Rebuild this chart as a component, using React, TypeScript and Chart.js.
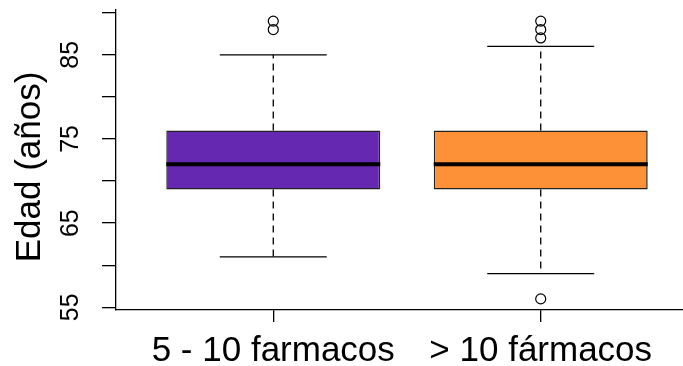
import React, { useEffect, useRef } from 'react';
import { Chart, registerables } from 'chart.js';

Chart.register(...registerables);

// ---- data ----
const categories = ['5 - 10 farmacos', '> 10 fármacos'];
const positions = [1, 2];
const whiskerLow = [61, 59];
const q1 = [69, 69];
const median = [72, 72];
const q3 = [76, 76];
const whiskerHigh = [85, 86];
const outlierGroup = [1, 1, 2, 2, 2, 2];
const outlierValues = [89, 88, 89, 88, 87, 56];
const boxColors = ['#6429B0', '#FD9137'];
const yTickValues = [55, 60, 65, 70, 75, 80, 85, 90];
const yTickLabelled = [55, 65, 75, 85];
const yTitle = 'Edad (años)';

const FONT = '"Liberation Sans", Arial, Helvetica, sans-serif';

const whiskerPlugin = {
  id: 'whiskerPlugin',
  afterDatasetsDraw(chart: any) {
    const xs = chart.scales.x;
    const ys = chart.scales.y;
    const ctx = chart.ctx;
    const meta = chart.getDatasetMeta(0);
    ctx.save();
    positions.forEach((p, i) => {
      const bar = meta.data[i];
      const cx = xs.getPixelForValue(p);
      const w = bar ? bar.width : 0;
      const yQ1 = ys.getPixelForValue(q1[i]);
      const yQ3 = ys.getPixelForValue(q3[i]);
      const yLo = ys.getPixelForValue(whiskerLow[i]);
      const yHi = ys.getPixelForValue(whiskerHigh[i]);
      const yMed = ys.getPixelForValue(median[i]);
      ctx.strokeStyle = '#000';
      ctx.lineWidth = 1.3;
      ctx.setLineDash([7, 5]);
      ctx.beginPath();
      ctx.moveTo(cx, yQ3);
      ctx.lineTo(cx, yHi);
      ctx.moveTo(cx, yQ1);
      ctx.lineTo(cx, yLo);
      ctx.stroke();
      ctx.setLineDash([]);
      ctx.beginPath();
      ctx.moveTo(cx - w / 4, yHi);
      ctx.lineTo(cx + w / 4, yHi);
      ctx.moveTo(cx - w / 4, yLo);
      ctx.lineTo(cx + w / 4, yLo);
      ctx.stroke();
      ctx.lineWidth = 4;
      ctx.beginPath();
      ctx.moveTo(cx - w / 2, yMed);
      ctx.lineTo(cx + w / 2, yMed);
      ctx.stroke();
    });
    ctx.restore();
  },
  afterDraw(chart: any) {
    // y-axis title, centred slightly below the plot-region centre as in the reference
    const ys = chart.scales.y;
    const ctx = chart.ctx;
    const ca = chart.chartArea;
    ctx.save();
    ctx.translate(ys.left + 30, (ca.top + ca.bottom) / 2 + 7);
    ctx.rotate(-Math.PI / 2);
    ctx.font = `35px ${FONT}`;
    ctx.fillStyle = '#000';
    ctx.textAlign = 'center';
    ctx.textBaseline = 'middle';
    ctx.fillText(yTitle, 0, 0);
    ctx.restore();
  },
};

export default function App() {
  const ref = useRef<HTMLCanvasElement | null>(null);

  useEffect(() => {
    if (!ref.current) return;
    const chart = new Chart(ref.current, {
      type: 'bar',
      data: {
        datasets: [
          {
            type: 'bar',
            data: positions.map((p, i) => ({ x: p, y: [q1[i], q3[i]] })) as any,
            backgroundColor: boxColors,
            borderColor: '#222',
            borderWidth: 1.5,
            borderSkipped: false,
            categoryPercentage: 1,
            barPercentage: 0.8,
            order: 2,
          } as any,
          {
            type: 'scatter',
            data: outlierValues.map((v, i) => ({ x: outlierGroup[i], y: v })),
            pointRadius: 5,
            pointBackgroundColor: 'rgba(255,255,255,0)',
            pointBorderColor: '#000',
            pointBorderWidth: 1.2,
            showLine: false,
            order: 1,
          } as any,
        ],
      },
      options: {
        animation: false,
        responsive: false,
        maintainAspectRatio: false,
        layout: { autoPadding: false, padding: { top: 10, right: 0, left: 0, bottom: 0 } },
        plugins: { legend: { display: false }, tooltip: { enabled: false } },
        scales: {
          x: {
            type: 'linear',
            min: 0.412,
            max: 2.532,
            offset: false,
            afterBuildTicks: (s: any) => {
              s.ticks = positions.map((v) => ({ value: v }));
            },
            afterFit: (s: any) => {
              s.height = 56;
              s.paddingLeft = 0;
              s.paddingRight = 0;
            },
            ticks: {
              callback: (v: any) => categories[positions.indexOf(Number(v))] ?? '',
              font: { family: FONT, size: 35 },
              color: '#000',
              padding: 8,
              maxRotation: 0,
              minRotation: 0,
              autoSkip: false,
            },
            grid: {
              offset: false,
              drawOnChartArea: false,
              drawTicks: true,
              tickLength: 12,
              color: '#000',
              lineWidth: 1.3,
            },
            border: { display: true, color: '#000', width: 1.3 },
          },
          y: {
            type: 'linear',
            min: 54.68,
            max: 90.32,
            afterBuildTicks: (s: any) => {
              s.ticks = yTickValues.map((v) => ({ value: v }));
            },
            afterFit: (s: any) => {
              s.width = 116;
              s.paddingTop = 0;
              s.paddingBottom = 0;
            },
            ticks: {
              callback: (v: any) => (yTickLabelled.includes(Number(v)) ? String(v) : ''),
              font: { family: FONT, size: 25 },
              color: '#000',
              padding: 17,
              minRotation: 90,
              maxRotation: 90,
              crossAlign: 'center',
              autoSkip: false,
            },
            grid: {
              drawOnChartArea: false,
              drawTicks: true,
              tickLength: 14,
              color: '#000',
              lineWidth: 1.3,
            },
            border: { display: true, color: '#000', width: 1.3 },
          },
        },
      } as any,
      plugins: [whiskerPlugin],
    });
    return () => chart.destroy();
  }, []);

  return (
    <div style={{ position: 'fixed', left: 0, top: 0, width: 683, height: 366, background: '#fff' }}>
      <canvas ref={ref} width={683} height={366} />
    </div>
  );
}
